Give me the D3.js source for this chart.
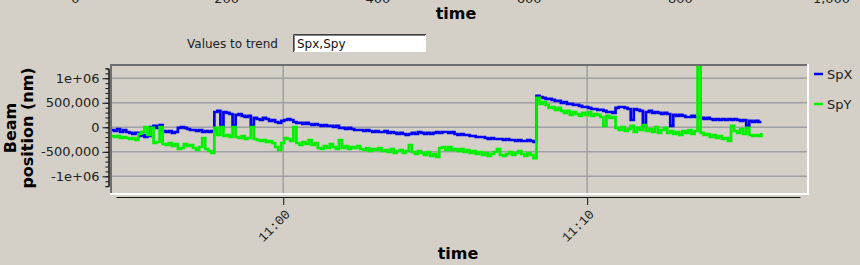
<!DOCTYPE html>
<html>
<head>
<meta charset="utf-8">
<script src="https://cdn.jsdelivr.net/npm/d3@7/dist/d3.min.js"></script>
<style>
	body { margin: 0; background: #d4d0c8; }
	svg { display: block; font-family: "DejaVu Sans", sans-serif; }
</style>
</head>
<body>
<div class="chart"></div>
<script>
// TREND OF BEAM POSITION
// samples come every 6 s starting at sampleStart, values in thousands of nm
const sampleStart = '10:54:20';
const sampleStep = 6;

const spxK = [
	-55, -76, -35, -96, -55, -96, -116, -137, -116, -178, -157, -198, -178,
	6, 27, -14, 47, -76, -96, -76, -116, -96, -14, 6, -14, -35, -55, -55, -76, -55, -96, -76, -96, -76,
	312, 333, 27, 312, 292, 271, 27, 251, 271, 231, 210, 231, 27, 190, 169, 149, 190, 169, 129, 149, 108, 88, 129,
	149, 169, 149, 108, 88, 88, 67, 88, 67, 47, 67, 47, 27, 47, 27, 27, 6, 27, -14, -14,
	-35, -14, -35, -55, -55, -55, -76, -55, -76, -96, -76, -96, -96, -76, -116, -96, -116, -137, -116, -137,
	-157, -137, -116, -137, -96, -116, -137, -116, -137, -116, -96, -116,
	-96, -96, -116, -96, -137, -157, -137, -157, -157, -178, -178, -198, -198, -198, -218, -239, -218, -239, -239, -239,
	-259, -239, -259, -259, -280, -259, -280, -280, -259, -280, -300,
	639, 618, 598, 578, 578, 557, 537, 537, 496, 516, 476, 476, 455, 455, 435, 414, 414, 394, 373, 373,
	353, 353, 333, 312, 312, 292,
	394, 414, 414, 394, 373, 149, 373, 353, 333, 27, 312, 333, 292, 312, 292, 271, 292, 271, 27, 251,
	231, 251, 231, 210, 210, 231, 210, 210, 190, 169, 190, 169, 149, 169, 149, 169, 149, 169, 149, 169,
	149, 129, 149, 27, 129, 108, 129, 108, 108
];

const spyK = [
	-178, -198, -178, -218, -198, -218, -239, -218, -259, -137, -96, 6, -157,
	-14, -320, -300, 6, -341, -361, -320, -382, -341, -443, -422, -341, -382, -361, -422, -463, -402, -218, -443, -484, -524,
	-14, -157, 6, -178, -157, -198, 6, -198, -218, -178, -239, -218, 6, -239, -259, -280, -259, -300, -280, -320, -402, -463, -320,
	-218, -239, -280, 6, -320, -361, -300, -341, -259, -361, -320, -422, -443, -382, -422, -341, -402, -443, -259, -422,
	-382, -443, -402, -422, -382, -443, -463, -422, -484, -443, -463, -422, -484, -463, -504, -443, -524, -484, -463, -524,
	-484, -361, -504, -545, -484, -524, -565, -504, -586, -545, -606, -422, -402,
	-463, -402, -463, -443, -484, -443, -504, -463, -524, -484, -545, -504, -565, -524, -586, -545, -504, -443, -565, -586,
	-545, -504, -565, -524, -484, -545, -586, -524, -565, -627,
	598, 476, 516, 455, 394, 414, 353, 394, 333, 292, 333, 251, 312, 271, 231, 292, 251, 312, 231, 271,
	251, 210, 27, 231, 190, 210,
	-14, -55, 6, -76, -35, 27, -96, -14, -55, 47, -76, -35, -96, 6, -116, -55, -14, -116, -76, -137,
	-96, -157, -76, -116, -55, -137, -76, 1500, -116, -157, -137, -198, -157, -218, -178, -239, -218, -280, 27, -76,
	-116, -35, -137, -14, -157, -178, -157, -178, -116
];

const seriesNames = ['SpX', 'SpY'];
const yTicks = [-1e6, -5e5, 0, 5e5, 1e6];
const yTickLabels = ['-1e+06', '-500,000', '0', '500,000', '1e+06'];
const xTicks = ['11:00:00', '11:10:00'];
const topTicks = [0, 200, 400, 600, 800, 1000];

// layout
const width = 860;
const height = 265;
const plot = {left: 112, top: 66, right: 807, bottom: 193};
const colors = ['#0000f4', '#00f000'];

const parseTime = d3.timeParse('%H:%M:%S');
const t0 = parseTime(sampleStart);
const times = spxK.map((d, i) => new Date(t0.getTime() + i * sampleStep * 1000));
const xTickTimes = xTicks.map(parseTime);
const series = [spxK, spyK].map((vals, s) => ({
	name: seriesNames[s],
	color: colors[s],
	points: vals.map((v, i) => ({t: times[i], v: v * 1000}))
}));

const svg = d3.select('.chart')
	.append('svg')
		.attr('width', width)
		.attr('height', height);

svg.append('rect')
	.attr('width', width)
	.attr('height', height)
	.attr('fill', '#d4d0c8');

const xScale = d3.scaleTime()
	.domain([parseTime('10:54:20'), parseTime('11:17:12')])
	.range([111, 806]);

const yScale = d3.scaleLinear()
	.domain([-1.34e6, 1.27e6])
	.range([193, 65]);

// cut-off axis of the plot above
const topScale = d3.scaleLinear().domain([0, 1000]).range([75.5, 831.5]);
svg.append('g')
	.selectAll('text')
	.data(topTicks)
	.enter()
	.append('text')
		.attr('x', d => topScale(d))
		.attr('y', 3)
		.attr('text-anchor', 'middle')
		.attr('font-size', 13)
		.attr('fill', '#222')
		.text(d => d3.format(',')(d));

svg.append('text')
	.attr('x', 456)
	.attr('y', 18.5)
	.attr('text-anchor', 'middle')
	.attr('font-size', 16)
	.attr('font-weight', 'bold')
	.text('time');

// text field
svg.append('text')
	.attr('x', 187)
	.attr('y', 48)
	.attr('font-size', 12)
	.attr('fill', '#222')
	.text('Values to trend');
svg.append('rect')
	.attr('x', 293).attr('y', 34)
	.attr('width', 133).attr('height', 18)
	.attr('fill', '#fff');
svg.append('path')
	.attr('d', 'M293.5,52V34.5H426')
	.attr('fill', 'none')
	.attr('stroke', '#404040');
svg.append('path')
	.attr('d', 'M294.5,51V35.5H425')
	.attr('fill', 'none')
	.attr('stroke', '#808080');
svg.append('text')
	.attr('x', 297)
	.attr('y', 48)
	.attr('font-size', 12)
	.attr('fill', '#111')
	.text('Spx,Spy');

// grid
const grid = svg.append('g');
grid.selectAll('line.h')
	.data(yTicks)
	.enter()
	.append('line')
		.attr('class', 'h')
		.attr('x1', plot.left).attr('x2', plot.right)
		.attr('y1', d => yScale(d)).attr('y2', d => yScale(d));
grid.selectAll('line.v')
	.data(xTickTimes)
	.enter()
	.append('line')
		.attr('class', 'v')
		.attr('x1', d => xScale(d)).attr('x2', d => xScale(d))
		.attr('y1', plot.top).attr('y2', plot.bottom);
grid.selectAll('line')
	.attr('stroke', '#a0a0a4')
	.attr('stroke-width', 1.5);

svg.append('clipPath')
	.attr('id', 'plot-clip')
	.append('rect')
		.attr('x', plot.left).attr('y', plot.top)
		.attr('width', plot.right - plot.left)
		.attr('height', plot.bottom - plot.top);

const line = d3.line()
	.curve(d3.curveStepAfter)
	.x(d => xScale(d.t))
	.y(d => yScale(d.v));

svg.append('g')
	.attr('clip-path', 'url(#plot-clip)')
	.selectAll('path')
	.data(series)
	.enter()
	.append('path')
		.attr('fill', 'none')
		.attr('stroke', d => d.color)
		.attr('stroke-width', 2.7)
		.attr('d', d => line(d.points));

// sunken frame
const frame = svg.append('g').attr('fill', 'none').attr('stroke-width', 2);
frame.append('path').attr('d', 'M111,195V65H809').attr('stroke', '#6e6e6e');
frame.append('path').attr('d', 'M110,194H808V64').attr('stroke', '#fff');

// y axis
const yAxisScale = yScale.copy()
	.domain([-1.2e6, 1.2e6])
	.range([yScale(-1.2e6), yScale(1.2e6)]);

svg.append('g')
	.attr('transform', 'translate(108.5, 0)')
	.call(d3.axisLeft(yAxisScale)
		.tickValues(d3.range(-12, 13).map(d => d * 1e5))
		.tickSize(3)
		.tickFormat(''));

svg.append('g')
	.attr('transform', 'translate(108.5, 0)')
	.call(d3.axisLeft(yAxisScale)
		.tickValues(yTicks)
		.tickSize(6)
		.tickSizeOuter(0)
		.tickPadding(3)
		.tickFormat((d, i) => yTickLabels[i]));

svg.selectAll('.tick text')
	.attr('font-family', '"DejaVu Sans", sans-serif')
	.attr('font-size', 13)
	.attr('fill', '#222');

// x axis
const xAxisScale = xScale.copy()
	.domain([parseTime('10:54:30'), parseTime('11:17:00')])
	.range([xScale(parseTime('10:54:30')), xScale(parseTime('11:17:00'))]);

svg.append('g')
	.attr('transform', 'translate(0, 197)')
	.call(d3.axisBottom(xAxisScale)
		.tickValues(xTickTimes)
		.tickSize(8)
		.tickSizeOuter(0)
		.tickFormat(d3.timeFormat('%H:%M')))
	.selectAll('text')
		.attr('font-family', '"Liberation Mono", monospace')
		.attr('font-size', 13)
		.attr('fill', '#222')
		.attr('y', 0)
		.attr('dy', 0)
		.style('text-anchor', 'end')
		.attr('transform', 'translate(7, 18) rotate(-45)');

svg.selectAll('.domain, .tick line').attr('stroke', '#111');

svg.append('text')
	.attr('x', 458)
	.attr('y', 258.5)
	.attr('text-anchor', 'middle')
	.attr('font-size', 16)
	.attr('font-weight', 'bold')
	.text('time');

// y title on two lines
const yTitle = svg.append('g')
	.attr('font-size', 16)
	.attr('font-weight', 'bold')
	.attr('text-anchor', 'middle');
yTitle.append('text')
	.attr('transform', 'translate(15.5, 128) rotate(-90)')
	.text('Beam');
yTitle.append('text')
	.attr('transform', 'translate(32.5, 128) rotate(-90)')
	.text('position (nm)');

// legend
const legend = svg.selectAll('.legend')
	.data(series)
	.enter()
	.append('g')
		.attr('class', 'legend')
		.attr('transform', (d, i) => `translate(814, ${74 + i * 30})`);
legend.append('line')
	.attr('x1', 0).attr('x2', 9)
	.attr('stroke', d => d.color)
	.attr('stroke-width', 2.5);
legend.append('text')
	.attr('x', 13)
	.attr('y', 5)
	.attr('font-size', 13)
	.attr('fill', '#222')
	.text(d => d.name);
</script>
</body>
</html>
